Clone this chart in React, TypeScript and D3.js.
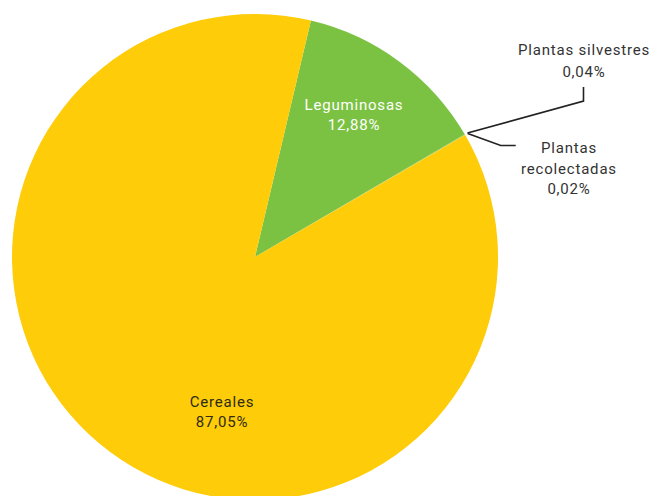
import React from 'react'
import * as d3 from 'd3'

// chart data
const categories = ['Leguminosas', 'Plantas silvestres', 'Plantas recolectadas', 'Cereales']
const values = [12.88, 0.04, 0.02, 87.05]
const valueLabels = ['12,88%', '0,04%', '0,02%', '87,05%']
const colors = ['#7cc242', '#7cc242', '#fecc08', '#fecc08']

const width = 652
const height = 496
const cx = 255
const cy = 257
const radius = 243
const startDeg = 13.3
const font = 'Roboto, "DejaVu Sans", sans-serif'

type Slice = d3.PieArcDatum<number>

function App() {
  const pie = d3
    .pie<number>()
    .sort(null)
    .startAngle((startDeg * Math.PI) / 180)
    .endAngle((startDeg * Math.PI) / 180 + 2 * Math.PI)
  const arcs = pie(values)

  const arc = d3.arc<Slice>().innerRadius(0).outerRadius(radius)
  const edge = d3.arc<Slice>().innerRadius(radius + 3).outerRadius(radius + 3)

  // leader anchor point on the rim for the two tiny slices
  const sil = edge.centroid(arcs[1])
  const rec = edge.centroid(arcs[2])

  const legPos = [99, -147]
  const cerPos = [-33, 150]

  return (
    <svg width={width} height={height} style={{ position: 'absolute', left: 0, top: 0 }}>
      <g transform={`translate(${cx},${cy})`}>
        {arcs.map((d, i) => (
          <path key={categories[i]} d={arc(d) || ''} fill={colors[i]} />
        ))}
        {/* leader lines */}
        <polyline
          points={`${sil[0]},${sil[1]} ${sil[0] + 116},${sil[1] - 32} ${sil[0] + 116},${sil[1] - 46}`}
          fill="none"
          stroke="#222"
          strokeWidth={1.6}
        />
        <polyline
          points={`${rec[0]},${rec[1]} ${rec[0] + 33},${rec[1] + 12} ${rec[0] + 48},${rec[1] + 12}`}
          fill="none"
          stroke="#222"
          strokeWidth={1.6}
        />
      </g>
      <g fontFamily={font} fontSize={15} letterSpacing={0.8} textAnchor="middle">
        <text x={cx + legPos[0]} y={cy + legPos[1]} fill="#fff">
          <tspan x={cx + legPos[0]} dy={0}>{categories[0]}</tspan>
          <tspan x={cx + legPos[0]} dy={20}>{valueLabels[0]}</tspan>
        </text>
        <text x={cx + cerPos[0]} y={cy + cerPos[1]} fill="#2e2a14">
          <tspan x={cx + cerPos[0]} dy={0}>{categories[3]}</tspan>
          <tspan x={cx + cerPos[0]} dy={20}>{valueLabels[3]}</tspan>
        </text>
        <text fill="#333">
          <tspan x={584} y={55}>{categories[1]}</tspan>
          <tspan x={584} y={77}>{valueLabels[1]}</tspan>
        </text>
        <text fill="#333">
          <tspan x={569} y={153}>Plantas</tspan>
          <tspan x={569} y={174}>recolectadas</tspan>
          <tspan x={569} y={194}>{valueLabels[2]}</tspan>
        </text>
      </g>
    </svg>
  )
}

export default App
